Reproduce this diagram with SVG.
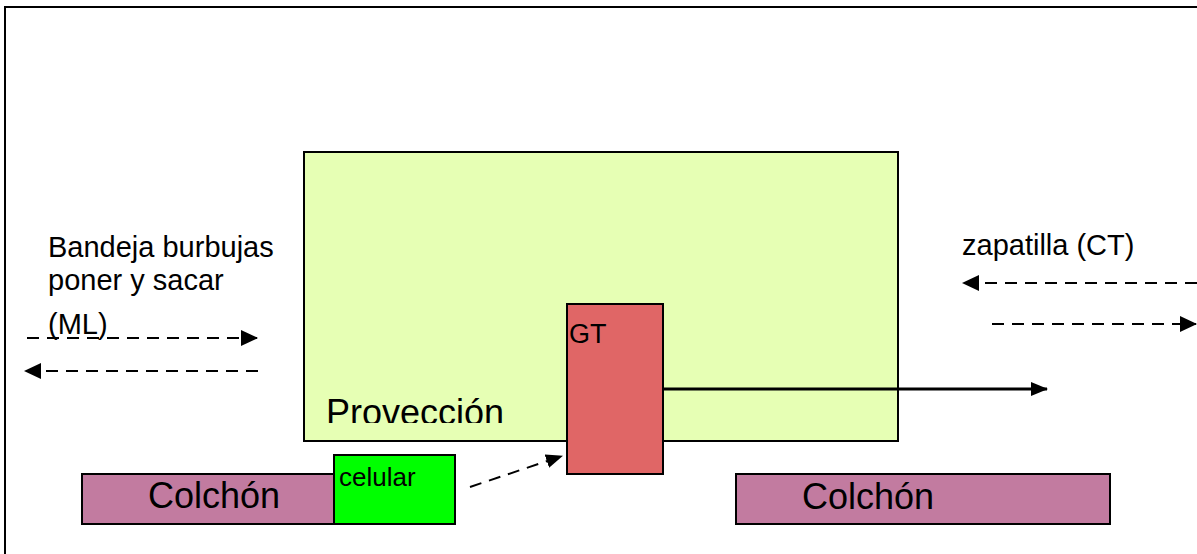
<svg xmlns="http://www.w3.org/2000/svg" width="1197" height="554" viewBox="0 0 1197 554">
<style>
.box{stroke:#000;stroke-width:2}
.t{font-family:"Liberation Sans",Arial,sans-serif;fill:#000}
.dash{stroke:#000;stroke-width:2;fill:none;stroke-dasharray:12 8}
</style>
<defs>
<marker id="ah" markerUnits="userSpaceOnUse" markerWidth="18" markerHeight="18" refX="16" refY="8" orient="auto">
<path d="M0,0 L17,8 L0,16 Z" fill="#000"/>
</marker>
<marker id="ahs" markerUnits="userSpaceOnUse" markerWidth="18" markerHeight="16" refX="16" refY="7" orient="auto">
<path d="M0,0 L17,7 L0,14 Z" fill="#000"/>
</marker>
<clipPath id="clipProv"><rect x="304" y="380" width="300" height="43"/></clipPath>
</defs>
<rect x="0" y="0" width="1197" height="554" fill="#fff"/>
<rect x="5" y="7" width="1210" height="570" fill="none" stroke="#000" stroke-width="2"/>

<g id="provecc">
<rect class="box" x="304" y="152" width="594" height="289" fill="#E6FFB4"/>
<text class="t" x="326" y="425" font-size="36" clip-path="url(#clipProv)">Provección</text>
</g>
<g id="colchon1">
<rect class="box" x="82" y="474" width="252" height="50" fill="#C27BA0"/>
<text class="t" x="148" y="508" font-size="36">Colchón</text>
</g>
<g id="celular">
<rect class="box" x="334" y="455" width="121" height="69" fill="#00FF00"/>
<text class="t" x="339" y="486" font-size="26">celular</text>
</g>
<g id="gt">
<rect class="box" x="567" y="304" width="96" height="170" fill="#E06666"/>
<text class="t" x="569" y="343" font-size="27">GT</text>
</g>
<g id="colchon2">
<rect class="box" x="736" y="474" width="374" height="50" fill="#C27BA0"/>
<text class="t" x="802" y="509" font-size="36">Colchón</text>
</g>
<g id="labels">
<text class="t" x="48" y="257" font-size="29">Bandeja burbujas</text>
<text class="t" x="48" y="290" font-size="29">poner y sacar</text>
<text class="t" x="48" y="334" font-size="29">(ML)</text>
<text class="t" x="962" y="255" font-size="29">zapatilla (CT)</text>
</g>
<g id="connectors">
<line class="dash" x1="27" y1="338" x2="257" y2="338" marker-end="url(#ah)"/>
<line class="dash" x1="258" y1="371" x2="25" y2="371" marker-end="url(#ah)"/>
<line class="dash" x1="1197" y1="283" x2="963" y2="283" marker-end="url(#ah)"/>
<line class="dash" x1="992" y1="324" x2="1196" y2="324" marker-end="url(#ah)"/>
<line class="dash" x1="470" y1="487" x2="562" y2="456" marker-end="url(#ahs)"/>
<line x1="663" y1="389" x2="1047" y2="389" stroke="#000" stroke-width="3" marker-end="url(#ahs)"/>
</g>
</svg>
